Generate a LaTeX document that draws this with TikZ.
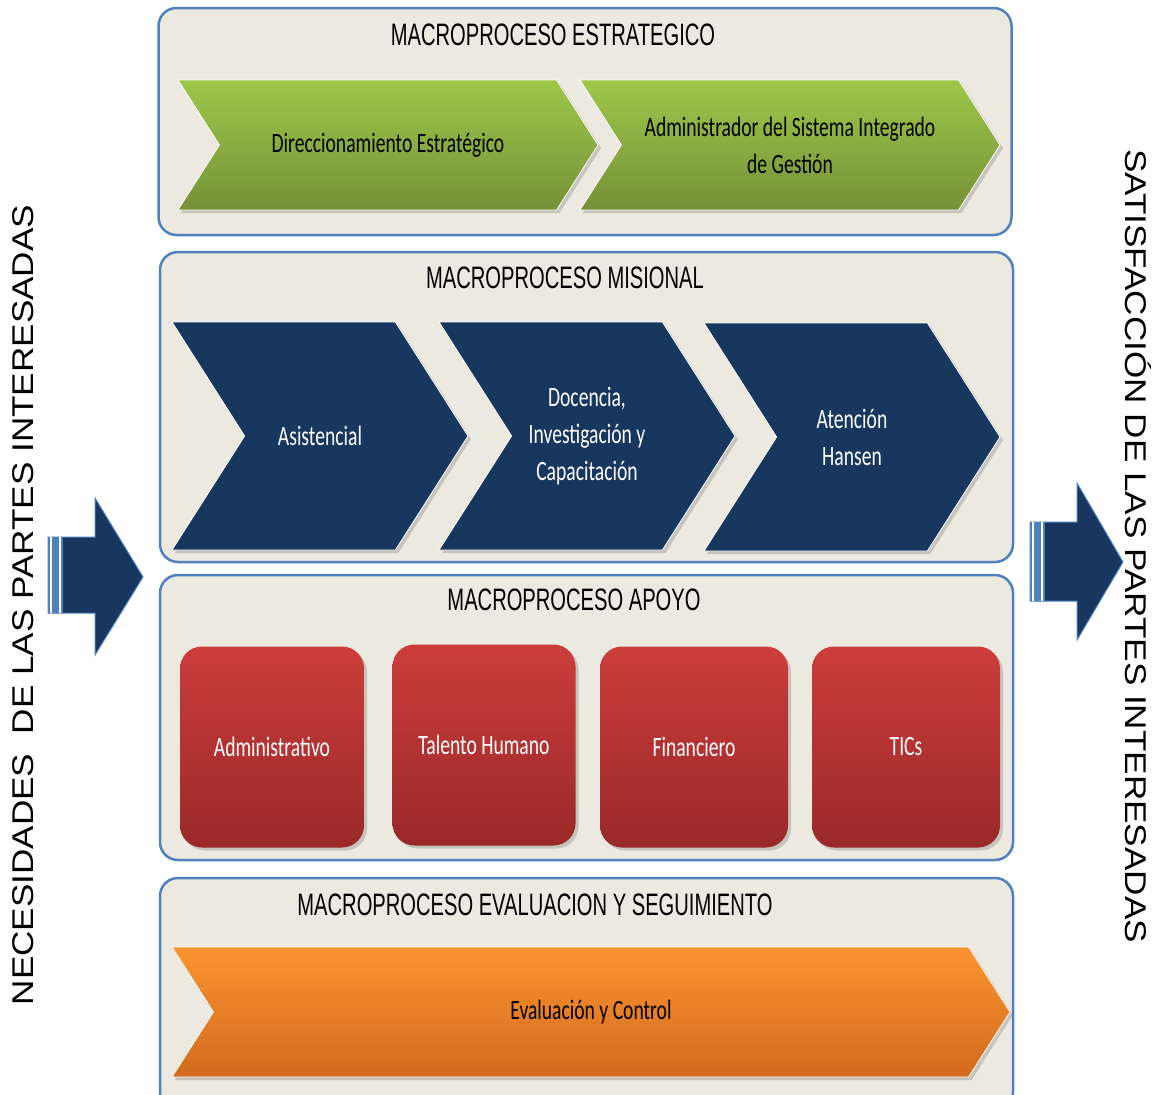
\documentclass[tikz,border=0pt]{standalone}
\usepackage{fontspec}
\setmainfont{Carlito}
\newfontfamily\bodyfont[FakeStretch=0.7]{Carlito}
\newfontfamily\titlefont[FakeStretch=0.65]{Liberation Sans}
\newfontfamily\sidefont[FakeStretch=1.17]{Liberation Sans}
\usetikzlibrary{shapes.symbols, positioning, shadows}
\definecolor{PanelFill}{RGB}{236,233,224}
\definecolor{PanelBlue}{RGB}{79,129,189}
\definecolor{GreenTop}{RGB}{158,199,73}
\definecolor{GreenBot}{RGB}{117,145,57}
\definecolor{NavyBlue}{RGB}{23,55,94}
\definecolor{RedTop}{RGB}{204,61,59}
\definecolor{RedBot}{RGB}{153,41,40}
\definecolor{OrangeTop}{RGB}{251,148,47}
\definecolor{OrangeBot}{RGB}{210,107,31}

\begin{document}
\begin{tikzpicture}[
  x=1pt, y=-1pt,
  panel/.style={rectangle, rounded corners=18pt, draw=PanelBlue,
                line width=2.5pt, fill=PanelFill, minimum width=853pt},
  title/.style={font=\titlefont\fontsize{31}{31}\selectfont, inner sep=0pt},
  chev/.style={signal, signal from=west, signal to=east,
               signal pointer angle=115, draw=white!55, line width=0.8pt,
               align=center, inner sep=0pt,
               drop shadow={opacity=0.35, shadow xshift=3pt, shadow yshift=-3pt},
               font=\bodyfont\fontsize{28}{37}\selectfont},
  greenchev/.style={chev, top color=GreenTop, bottom color=GreenBot,
                    minimum width=420pt, minimum height=130pt},
  navychev/.style={chev, fill=NavyBlue, text=white,
                   minimum width=296pt, minimum height=228pt},
  orangechev/.style={chev, top color=OrangeTop, bottom color=OrangeBot,
                     minimum width=838pt, minimum height=130pt},
  redbox/.style={rectangle, rounded corners=22pt, top color=RedTop,
                 bottom color=RedBot, text=white, minimum height=201pt,
                 drop shadow={opacity=0.35, shadow xshift=3pt, shadow yshift=-3pt},
                 font=\bodyfont\fontsize{28}{37}\selectfont},
  sidetext/.style={font=\sidefont\fontsize{30}{30}\selectfont, inner sep=0pt},
  bigarrow/.style={fill=NavyBlue, draw=PanelBlue, line width=1pt},
  stripe/.style={draw=white, line width=1.3pt}
]
\useasboundingbox (0,0) rectangle (1168,1095);

% Panels
\node[panel, minimum height=227pt] (estr) at (585,121.5) {};
\node[panel, minimum height=310pt] (mis)  at (586.5,407) {};
\node[panel, minimum height=285pt] (apo)  at (586.5,717.5) {};
\node[panel, minimum height=232pt] (eval) at (586.5,994) {};

% Titles
\node[title] (estrT) at (553,35)  {MACROPROCESO ESTRATEGICO};
\node[title] (misT)  at (565,278) {MACROPROCESO MISIONAL};
\node[title] (apoT)  at (574,600) {MACROPROCESO APOYO};
\node[title] (evalT) at (535,905) {MACROPROCESO EVALUACION Y SEGUIMIENTO};

% Estrategico
\node[greenchev] (dir) at (388,145) {Direccionamiento Estratégico};
\node[greenchev] (adm) at (790,145) {Administrador del Sistema Integrado\\de Gestión};

% Misional
\node[navychev] (asis) at (320,436) {Asistencial};
\node[navychev] (doc)  at (587,436) {Docencia,\\Investigación y\\Capacitación};
\node[navychev] (hans) at (852,437) {Atención\\Hansen};

% Apoyo
\node[redbox, minimum width=184pt] (admin) at (272,747) {Administrativo};
\node[redbox, minimum width=183pt] (tal)   at (484,745) {Talento Humano};
\node[redbox, minimum width=188pt] (fin)   at (694,747) {Financiero};
\node[redbox, minimum width=188pt] (tics)  at (906,747) {TICs};

% Evaluacion
\node[orangechev] (ctrl) at (591,1012) {Evaluación y Control};

% Side arrows
\draw[bigarrow] (48,537) -- (95,537) -- (95,498) -- (143,577)
  -- (95,655) -- (95,613) -- (48,613) -- cycle;
\fill[PanelBlue] (48,537) rectangle (63,613);
\draw[stripe] (51,537) -- (51,613);
\draw[stripe] (60,537) -- (60,613);
\draw[bigarrow] (1030,522) -- (1077,522) -- (1077,483) -- (1123,562)
  -- (1077,640) -- (1077,601) -- (1030,601) -- cycle;
\fill[PanelBlue] (1030,522) rectangle (1045,601);
\draw[stripe] (1033,522) -- (1033,601);
\draw[stripe] (1042,522) -- (1042,601);

% Side texts
\node[sidetext, rotate=90]  (need) at (23,605)   {NECESIDADES\ \ DE LAS PARTES INTERESADAS};
\node[sidetext, rotate=-90] (sat)  at (1138,546) {SATISFACCIÓN DE LAS PARTES INTERESADAS};

\end{tikzpicture}
\end{document}
